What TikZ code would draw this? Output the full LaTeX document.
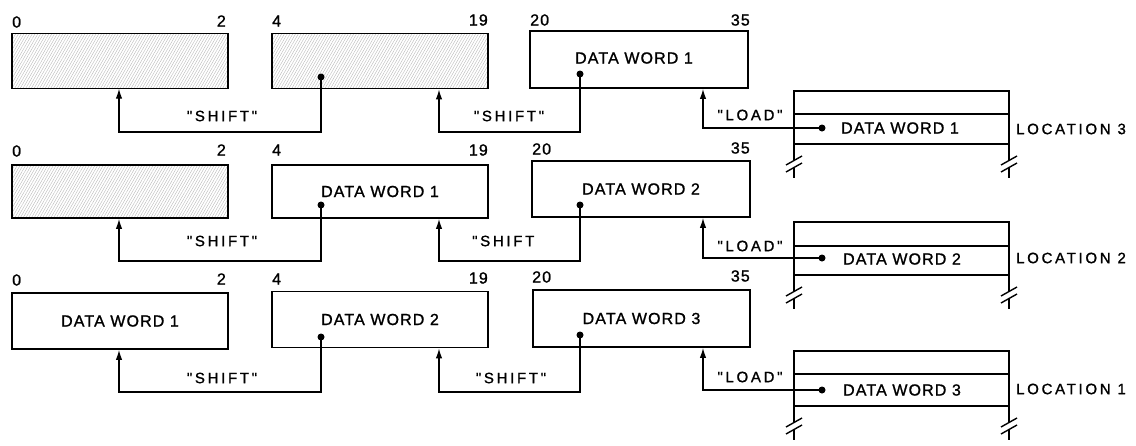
\documentclass[tikz,border=0pt]{standalone}
\usepackage{fontspec}
\setmainfont{Liberation Sans}
\newfontfamily\wf[LetterSpace=7,FakeBold=1.2]{Liberation Sans}
\newfontfamily\lf[LetterSpace=18,FakeBold=1.2]{Liberation Sans}
\usetikzlibrary{patterns.meta,arrows.meta}
\begin{document}
\begin{tikzpicture}[x=1pt,y=-1pt,
  reg/.style={draw,line width=1.9pt,inner sep=0pt,minimum width=216pt,minimum height=55pt,font=\wf\fontsize{16}{18}\selectfont},
  hatch/.style={reg,pattern={Lines[angle=60,distance=2.4pt,line width=0.4pt]},pattern color=black!28},
  num/.style={font=\wf\fontsize{16}{18}\selectfont,inner sep=0pt},
  lbl/.style={font=\lf\fontsize{15}{18}\selectfont,inner sep=0pt},
  wtxt/.style={font=\wf\fontsize{16}{18}\selectfont,inner sep=0pt},
  conn/.style={line width=1.2pt},
  arr/.style={conn,-{Latex[length=10pt,width=6.5pt]}},
  dotn/.style={circle,fill,inner sep=0pt,minimum size=7pt},
  mem/.style={draw,line width=1.9pt,inner sep=0pt,minimum width=215pt,minimum height=53pt},
  mline/.style={line width=1.4pt}]
\useasboundingbox (0,0) rectangle (1136,445);

% ---------------- Row 1 ----------------
\node[hatch] (a1) at (120,61) {};
\node[hatch] (b1) at (380,61) {};
\node[reg,minimum width=218pt,minimum height=57pt] (c1) at (639,59.5) {};
\node[wtxt] (c1t) at (634,58) {DATA WORD 1};
\node[num,anchor=west] (n10) at (12,22) {0};
\node[num,anchor=east] (n12) at (226,21) {2};
\node[num,anchor=west] (n14) at (272,21) {4};
\node[num,anchor=east] (n119) at (488,20) {19};
\node[num,anchor=west] (n120) at (530,20) {20};
\node[num,anchor=east] (n135) at (750,20) {35};
\node[dotn] (b1d) at (321,77) {};
\node[dotn] (c1d) at (580,74) {};
\coordinate (s1a) at (119,132);
\coordinate (s1b) at (439,132);
\draw[arr] (b1d.center) |- (s1a) -- (a1.south -| s1a);
\draw[arr] (c1d.center) |- (s1b) -- (b1.south -| s1b);
\node[lbl] (l1a) at (222,116) {"SHIFT"};
\node[lbl] (l1b) at (509,116) {"SHIFT"};

% memory 1
\node[mem] (m1) at (901.5,117.5) {};
\draw[mline] (794,114) -- (1009,114);
\node[dotn] (m1d) at (822,128) {};
\node[wtxt] (m1t) at (900,128) {DATA WORD 1};
\node[lbl,anchor=west] (loc3) at (1016,129) {LOCATION 3};
\coordinate (ld1) at (703,128);
\draw[arr] (m1d.center) -- (ld1) -- (c1.south -| ld1);
\node[lbl] (ll1) at (750,115) {"LOAD"};

% ---------------- Row 2 ----------------
\node[hatch,minimum height=53pt] (a2) at (120,191.5) {};
\node[reg,minimum height=53pt] (b2) at (380,191.5) {DATA WORD 1};
\node[reg,minimum width=218pt,minimum height=56pt] (c2) at (641,189) {DATA WORD 2};
\node[num,anchor=west] (n20) at (12,151) {0};
\node[num,anchor=east] (n22) at (226,150) {2};
\node[num,anchor=west] (n24) at (272,150) {4};
\node[num,anchor=east] (n219) at (488,150) {19};
\node[num,anchor=west] (n220) at (532,149) {20};
\node[num,anchor=east] (n235) at (750,148) {35};
\node[dotn] (b2d) at (321,205) {};
\node[dotn] (c2d) at (580,205) {};
\coordinate (s2a) at (119,261);
\coordinate (s2b) at (439,261);
\draw[arr] (b2d.center) |- (s2a) -- (a2.south -| s2a);
\draw[arr] (c2d.center) |- (s2b) -- (b2.south -| s2b);
\node[lbl] (l2a) at (222,241) {"SHIFT"};
\node[lbl,anchor=west] (l2b) at (472,241) {"SHIFT};

% memory 2
\node[mem] (m2) at (901.5,248.5) {};
\draw[mline] (794,246) -- (1009,246);
\node[dotn] (m2d) at (822,258) {};
\node[wtxt] (m2t) at (902,259) {DATA WORD 2};
\node[lbl,anchor=west] (loc2) at (1016,258) {LOCATION 2};
\coordinate (ld2) at (703,258);
\draw[arr] (m2d.center) -- (ld2) -- (c2.south -| ld2);
\node[lbl] (ll2) at (750,246) {"LOAD"};

% ---------------- Row 3 ----------------
\node[reg,minimum height=56pt] (a3) at (120,321) {DATA WORD 1};
\node[reg,minimum height=56pt] (b3) at (380,319.5) {DATA WORD 2};
\node[reg,minimum width=217pt,minimum height=57pt] (c3) at (641.5,318.5) {DATA WORD 3};
\node[num,anchor=west] (n30) at (12,280) {0};
\node[num,anchor=east] (n32) at (226,279) {2};
\node[num,anchor=west] (n34) at (272,279) {4};
\node[num,anchor=east] (n319) at (488,278) {19};
\node[num,anchor=west] (n320) at (532,277) {20};
\node[num,anchor=east] (n335) at (750,276) {35};
\node[dotn] (b3d) at (321,337) {};
\node[dotn] (c3d) at (580,335) {};
\coordinate (s3a) at (119,392);
\coordinate (s3b) at (439,392);
\draw[arr] (b3d.center) |- (s3a) -- (a3.south -| s3a);
\draw[arr] (c3d.center) |- (s3b) -- (b3.south -| s3b);
\node[lbl] (l3a) at (222,378) {"SHIFT"};
\node[lbl] (l3b) at (511,378) {"SHIFT"};

% memory 3
\node[mem,minimum height=55pt] (m3) at (901.5,378.5) {};
\draw[mline] (794,374) -- (1009,374);
\node[dotn] (m3d) at (822,390) {};
\node[wtxt] (m3t) at (902,390) {DATA WORD 3};
\node[lbl,anchor=west] (loc1) at (1016,389) {LOCATION 1};
\coordinate (ld3) at (703,390);
\draw[arr] (m3d.center) -- (ld3) -- (c3.south -| ld3);
\node[lbl] (ll3) at (750,377) {"LOAD"};

% break marks under memory blocks
\foreach \yb in {144,275,406}{
  \foreach \xx in {794,1009}{
    \draw[mline] (\xx,\yb) -- (\xx,\yb+16);
    \draw[mline] (\xx,\yb+23) -- (\xx,\yb+34);
    \draw[mline] (\xx-8,\yb+21) -- (\xx+8,\yb+12);
    \draw[mline] (\xx-8,\yb+28) -- (\xx+8,\yb+19);
  }
}
\end{tikzpicture}
\end{document}
